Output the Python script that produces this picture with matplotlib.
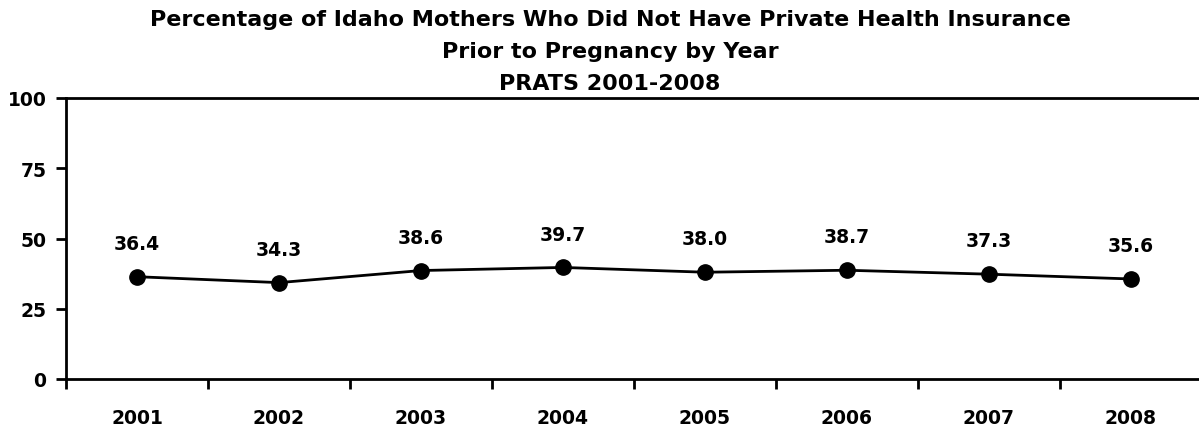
import matplotlib.pyplot as plt
from matplotlib.ticker import FixedLocator, NullFormatter

years = ["2001", "2002", "2003", "2004", "2005", "2006", "2007", "2008"]
pct = [36.4, 34.3, 38.6, 39.7, 38.0, 38.7, 37.3, 35.6]
yticks = [0, 25, 50, 75, 100]
title = ("Percentage of Idaho Mothers Who Did Not Have Private Health Insurance\n"
         "Prior to Pregnancy by Year\n"
         "PRATS 2001-2008")

plt.rcParams['font.family'] = 'DejaVu Sans'

fig = plt.figure(figsize=(11.99, 4.31), dpi=100)
W, H = 1199, 431
left, right, top, bottom = 66, 1202, 99, 380
ax = fig.add_axes([left / W, (H - bottom) / H, (right - left) / W, (bottom - top) / H])

xs = [i + 0.5 for i in range(len(years))]
ax.plot(xs, pct, color='black', lw=2, marker='o', ms=11, zorder=3)
for x, v in zip(xs, pct):
    ax.annotate(f"{v:.1f}", (x, v), xytext=(0, 24), textcoords='offset points',
                ha='center', va='center', fontsize=13.5, fontweight='bold')

ax.set_xlim(0, len(years))
ax.set_ylim(0, 100)
ax.set_yticks(yticks)
ax.set_yticklabels([str(t) for t in yticks], fontsize=13.5, fontweight='bold')
ax.xaxis.set_major_locator(FixedLocator(range(len(years) + 1)))
ax.xaxis.set_major_formatter(NullFormatter())
ax.xaxis.set_minor_locator(FixedLocator(xs))
ax.set_xticklabels(years, minor=True, fontsize=13.5, fontweight='bold')
ax.tick_params(axis='x', which='minor', length=0, pad=21)
ax.tick_params(axis='both', which='major', length=7, width=2, direction='out')
ax.tick_params(axis='y', pad=7)

for s in ['left', 'bottom', 'top']:
    ax.spines[s].set_linewidth(2)
ax.spines['right'].set_visible(False)

fig.text(610 / W, 1 - 52 / H, title, ha='center', va='center', fontsize=16,
         fontweight='bold', linespacing=1.72)

fig.savefig('out.png', dpi=100)
